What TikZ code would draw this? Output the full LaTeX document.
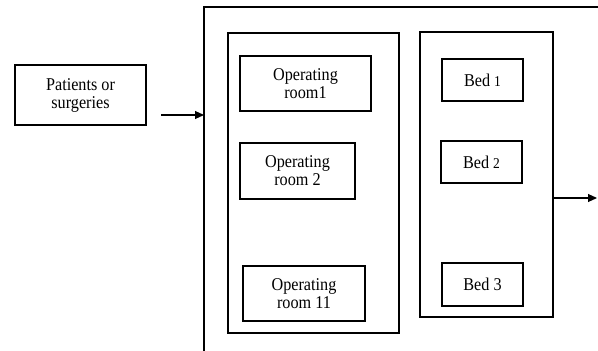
\documentclass[tikz,border=0pt]{standalone}
\usepackage{fontspec}
\setmainfont[FakeStretch=0.9]{Liberation Serif}
\usetikzlibrary{arrows.meta}
\begin{document}
\begin{tikzpicture}[x=1pt,y=-1pt,
  box/.style={draw, line width=1.1pt, rectangle, inner sep=0pt, align=center,
    font=\fontsize{18}{18}\selectfont},
  conn/.style={line width=1.1pt, -{Triangle[length=9pt,width=8pt]}},
  frame/.style={line width=1.1pt}]
\useasboundingbox (0,0) rectangle (598,351);
% source
\node[box, minimum width=131, minimum height=60] (src) at (80.5,95) {Patients or\\surgeries};
% outer system frame (open on right and bottom)
\coordinate (ob) at (204,351);
\coordinate (ot) at (204,7);
\coordinate (or) at (598,7);
\draw[frame] (ob) -- (ot) -- (or);
% operating room group
\node[box, minimum width=171, minimum height=300] (orc) at (313.5,183) {};
\node[box, minimum width=131, minimum height=55] (or1) at (305.5,83.5) {Operating\\room1};
\node[box, minimum width=115, minimum height=56] (or2) at (297.5,171) {Operating\\room 2};
\node[box, minimum width=122, minimum height=55] (or11) at (304,293.5) {Operating\\room 11};
% bed group
\node[box, minimum width=133, minimum height=285] (bedc) at (486.5,174.5) {};
\node[box, minimum width=81, minimum height=42] (bed1) at (482.5,80) {Bed {\fontsize{15}{15}\selectfont 1}};
\node[box, minimum width=81, minimum height=42] (bed2) at (481.5,162) {Bed {\fontsize{15}{15}\selectfont 2}};
\node[box, minimum width=81, minimum height=43] (bed3) at (482.5,284.5) {Bed 3};
% arrows
\coordinate (inS) at (161,115);
\coordinate (inE) at (204,115);
\draw[conn] (inS) -- (inE);
\coordinate (out) at (597,198);
\draw[conn] (bedc.east |- out) -- (out);
\end{tikzpicture}
\end{document}
